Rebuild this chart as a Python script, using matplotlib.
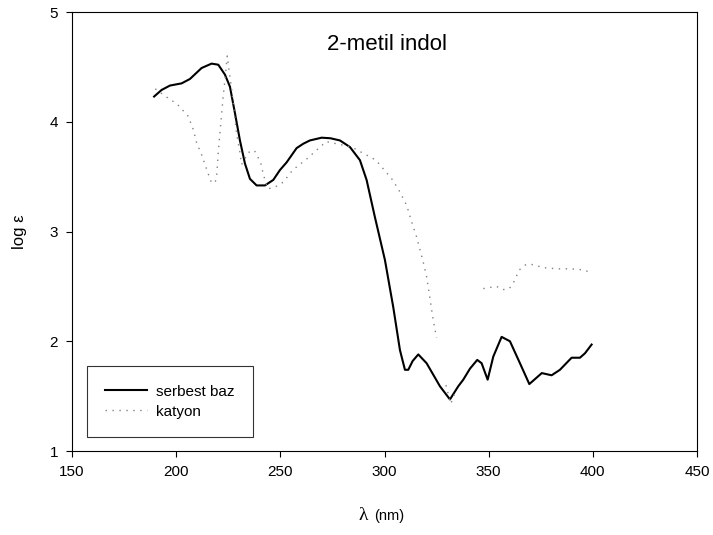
import numpy as np
import matplotlib
matplotlib.use('Agg')
import matplotlib.pyplot as plt

plt.rcParams['font.family'] = ['Liberation Sans', 'DejaVu Sans']

# serbest baz (duz cizgi)
baz_x = [189.4, 193, 197, 202.6, 206.6, 212.2, 217, 220.2, 223.4, 225.8, 228.2, 230.6, 233, 235.4,
         238.6, 242.6, 246.6, 249.8, 253, 257.8, 261, 264.2, 269.8, 274, 278.6, 283.4, 288.2, 291.4,
         295.4, 300.2, 304.2, 307.4, 309.8, 311.4, 313.5, 316.2, 320.2, 326.6, 331.4, 335.4, 337.8,
         341, 344.5, 346.6, 349.5, 352.2, 356.2, 360.2, 365, 369.5, 372.5, 375.5, 380.2, 384.2,
         389.8, 393.8, 396.2, 399.4]
baz_y = [4.23, 4.29, 4.33, 4.35, 4.39, 4.49, 4.53, 4.52, 4.43, 4.32, 4.08, 3.83, 3.62, 3.48,
         3.42, 3.42, 3.47, 3.56, 3.63, 3.76, 3.80, 3.83, 3.855, 3.85, 3.83, 3.77, 3.65, 3.47,
         3.13, 2.74, 2.31, 1.92, 1.74, 1.74, 1.82, 1.88, 1.80, 1.59, 1.47, 1.59, 1.65,
         1.75, 1.83, 1.80, 1.65, 1.86, 2.04, 2.00, 1.80, 1.61, 1.66, 1.71, 1.69, 1.74,
         1.85, 1.85, 1.89, 1.97]

# katyon (noktali), bosluklar nan
kat_x = [190, 195, 198.2, 201, 205.8, 208.2, 209.8, 212.2, 214.2, 216.6, 218.6, 219.4, 220.2, 221,
         222.6, 223.4, 224.5, 225.5, 226.6, 229, 230.6, 231.4, 234.6, 237.5, 240.5, 242, 243.9, 247,
         251.4, 255.9, 262.6, 272, 284.2, 295.9, 303.9, 307.4, 310.6, 313, 315.4, 318.6, 320.2, 321.4,
         323.4, 325, 327, 329.5, 331.8, 333.8, 340, 347.4, 350.6, 353.8, 356.7, 359.9, 361.8, 364.7,
         367.9, 370.6, 376.6, 383, 389.4, 395.8, 398.3]
kat_y = [4.30, 4.23, 4.19, 4.15, 4.05, 3.93, 3.81, 3.70, 3.59, 3.46, 3.44, 3.50, 3.72, 3.90,
         4.24, 4.38, 4.60, 4.45, 4.30, 3.89, 3.72, 3.61, 3.72, 3.74, 3.63, 3.51, 3.39, 3.40,
         3.45, 3.56, 3.66, 3.82, 3.77, 3.65, 3.47, 3.36, 3.24, 3.09, 2.95, 2.72, 2.59, 2.44,
         2.19, 2.03, np.nan, 1.60, 1.43, 1.53, np.nan, 2.48, 2.49, 2.50, 2.47, 2.48, 2.53, 2.65,
         2.70, 2.70, 2.67, 2.66, 2.66, 2.65, 2.63]

fig = plt.figure(figsize=(7.13, 5.35), dpi=100)
ax = fig.add_axes([0.101, 0.157, 0.8766, 0.8205])

ax.plot(baz_x, baz_y, color='black', lw=1.5, label='serbest baz')
ax.plot(kat_x, kat_y, color='#808080', lw=1.0, linestyle=(0, (1, 4)), label='katyon')

ax.set_xlim(150, 450)
ax.set_ylim(1, 5)
ax.set_xticks([150, 200, 250, 300, 350, 400, 450])
ax.set_yticks([1, 2, 3, 4, 5])
ax.tick_params(direction='out', length=4, labelsize=11, width=0.8, pad=6)
for s in ax.spines.values():
    s.set_linewidth(0.8)

ax.text(301, 4.70, '2-metil indol', fontsize=16, ha='center', va='center')
ax.set_ylabel('log ε', fontsize=12, labelpad=16)

# x ekseni etiketi: lambda buyuk, (nm) kucuk
fig.text(363 / 713, 1 - 516 / 535, 'λ', fontsize=14, ha='center', va='center',
         family=['Liberation Serif', 'DejaVu Serif'])
fig.text(374 / 713, 1 - 516 / 535, '(nm)', fontsize=10.5, ha='left', va='center')

leg = ax.legend(loc='lower left', bbox_to_anchor=(0.024, 0.032), borderaxespad=0, fontsize=11,
                frameon=True, fancybox=False, edgecolor='black', handlelength=2.7,
                handletextpad=0.6, borderpad=1.2, labelspacing=0.4)
leg.get_frame().set_linewidth(0.8)

fig.savefig('out.png', dpi=100)
